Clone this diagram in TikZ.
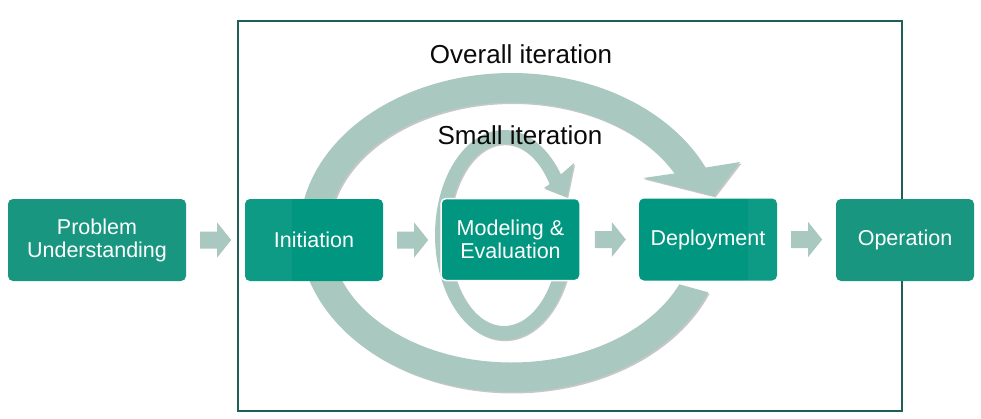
\documentclass[tikz,border=0pt]{standalone}
\usepackage{fontspec}
\setmainfont{Liberation Sans}
\usetikzlibrary{calc}
\definecolor{boxA}{RGB}{24,150,128}
\definecolor{boxB}{RGB}{0,150,128}
\definecolor{ringc}{RGB}{169,201,192}
\definecolor{framec}{RGB}{30,95,90}
\definecolor{txt}{RGB}{10,10,10}
\newcommand\bigring{plot[domain=-22:-336, samples=150] ({511.5+212*cos(\x)},{232.5-159.5*sin(\x)}) -- (740,162) -- (714,196) -- (643,178) -- plot[domain=-333:-23.5, samples=150] ({511.5+183*cos(\x)},{232.5-130*sin(\x)}) -- cycle}
\newcommand\smallring{plot[domain=-5:-325, samples=120] ({504+69*cos(\x)},{235-105*sin(\x)}) -- (574,163) -- (567,197) -- (544,188) -- plot[domain=-326:-5, samples=120] ({504+55*cos(\x)},{235-91*sin(\x)}) -- cycle}
\newcommand\blkarrow[1]{\fill[ringc] ($(#1.east)+(14,-8.5)$) -- ++(17,0) -- ++(0,-9) -- ++(14,17.5) -- ++(-14,17.5) -- ++(0,-9) -- ++(-17,0) -- cycle;}
\begin{document}
\begin{tikzpicture}[x=1pt,y=-1pt,
  box/.style={rounded corners=5pt, inner sep=0pt, minimum height=82pt, text=white,
    font=\fontsize{21.5}{23}\selectfont, align=center},
  title/.style={anchor=base, text=txt, font=\fontsize{26}{30}\selectfont},
  shadowc/.style={fill=black, opacity=0.22}]
\useasboundingbox (0,0) rectangle (981,418);
\fill[white] (0,0) rectangle (981,418);
% frame
\draw[framec, line width=1.2pt] (238,21) rectangle (902,411);
% rings
\fill[shadowc, shift={(1.5,1.5)}] \bigring;
\fill[ringc] \bigring;
\fill[shadowc, shift={(1.2,1.2)}] \smallring;
\fill[ringc] \smallring;
% boxes
\node[box, fill=boxA, minimum width=178pt] (pu) at (97,240) {Problem\\Understanding};
\node[box, fill=boxB, minimum width=138pt] (ini) at (314,240) {Initiation};
\node[box, fill=boxB, minimum width=139pt, draw=white, line width=1.5pt] (mod) at (510.5,239.5) {Modeling \&\\Evaluation};
\node[box, fill=boxB, minimum width=138pt] (dep) at (708,239.5) {Deployment};
\node[box, fill=boxA, minimum width=138pt] (op) at (905,240) {Operation};
% subtle strips
\begin{scope}
  \clip[rounded corners=5pt] (ini.south west) rectangle (ini.north east);
  \fill[white, opacity=0.05] (ini.north west) rectangle ($(ini.south west)+(47,0)$);
\end{scope}
\begin{scope}
  \clip[rounded corners=5pt] (dep.south west) rectangle (dep.north east);
  \fill[white, opacity=0.05] ($(dep.north east)+(-29,0)$) rectangle (dep.south east);
\end{scope}
% block arrows
\blkarrow{pu}
\blkarrow{ini}
\blkarrow{mod}
\blkarrow{dep}
% titles
\node[title] (ov) at (521,63) {Overall iteration};
\node[title] (sm) at (520,144) {Small iteration};
\end{tikzpicture}
\end{document}
